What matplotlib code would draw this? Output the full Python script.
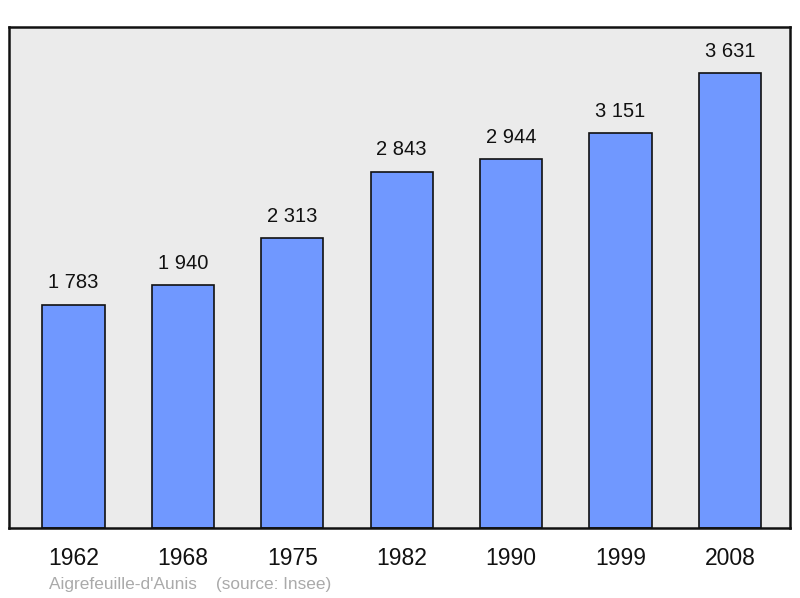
import matplotlib
matplotlib.use("Agg")
import matplotlib.pyplot as plt

years = ["1962", "1968", "1975", "1982", "1990", "1999", "2008"]
population = [1783, 1940, 2313, 2843, 2944, 3151, 3631]
value_labels = ["1 783", "1 940", "2 313", "2 843", "2 944", "3 151", "3 631"]
footer = "Aigrefeuille-d'Aunis    (source: Insee)"

plt.rcParams['font.family'] = ['Liberation Sans', 'DejaVu Sans']

fig = plt.figure(figsize=(8, 5.98), dpi=100)
ax = fig.add_axes([9/800, 1-528/598, 781/800, 501/598])
ax.set_facecolor('#ebebeb')

x = list(range(len(years)))
ax.bar(x, population, width=0.57, color='#7098ff', edgecolor='#111111', linewidth=1.2, zorder=2)
ax.set_xlim(-0.59, 6.55)
ax.set_ylim(0, 4000)

for xi, v, lab in zip(x, population, value_labels):
    ax.annotate(lab, (xi, v), xytext=(0, 9), textcoords='offset points',
                ha='center', va='bottom', fontsize=14.5, color='#111111')

ax.set_xticks(x)
ax.set_xticklabels(years, fontsize=16.5, color='#111111')
ax.tick_params(axis='x', length=0, pad=14)
ax.set_yticks([])
for s in ax.spines.values():
    s.set_linewidth(1.8)
    s.set_color('#111111')

fig.text(49/800, 1-584/598, footer, fontsize=12.4, color='#aaaaaa', ha='left', va='center')

fig.savefig('out.png', dpi=100)
